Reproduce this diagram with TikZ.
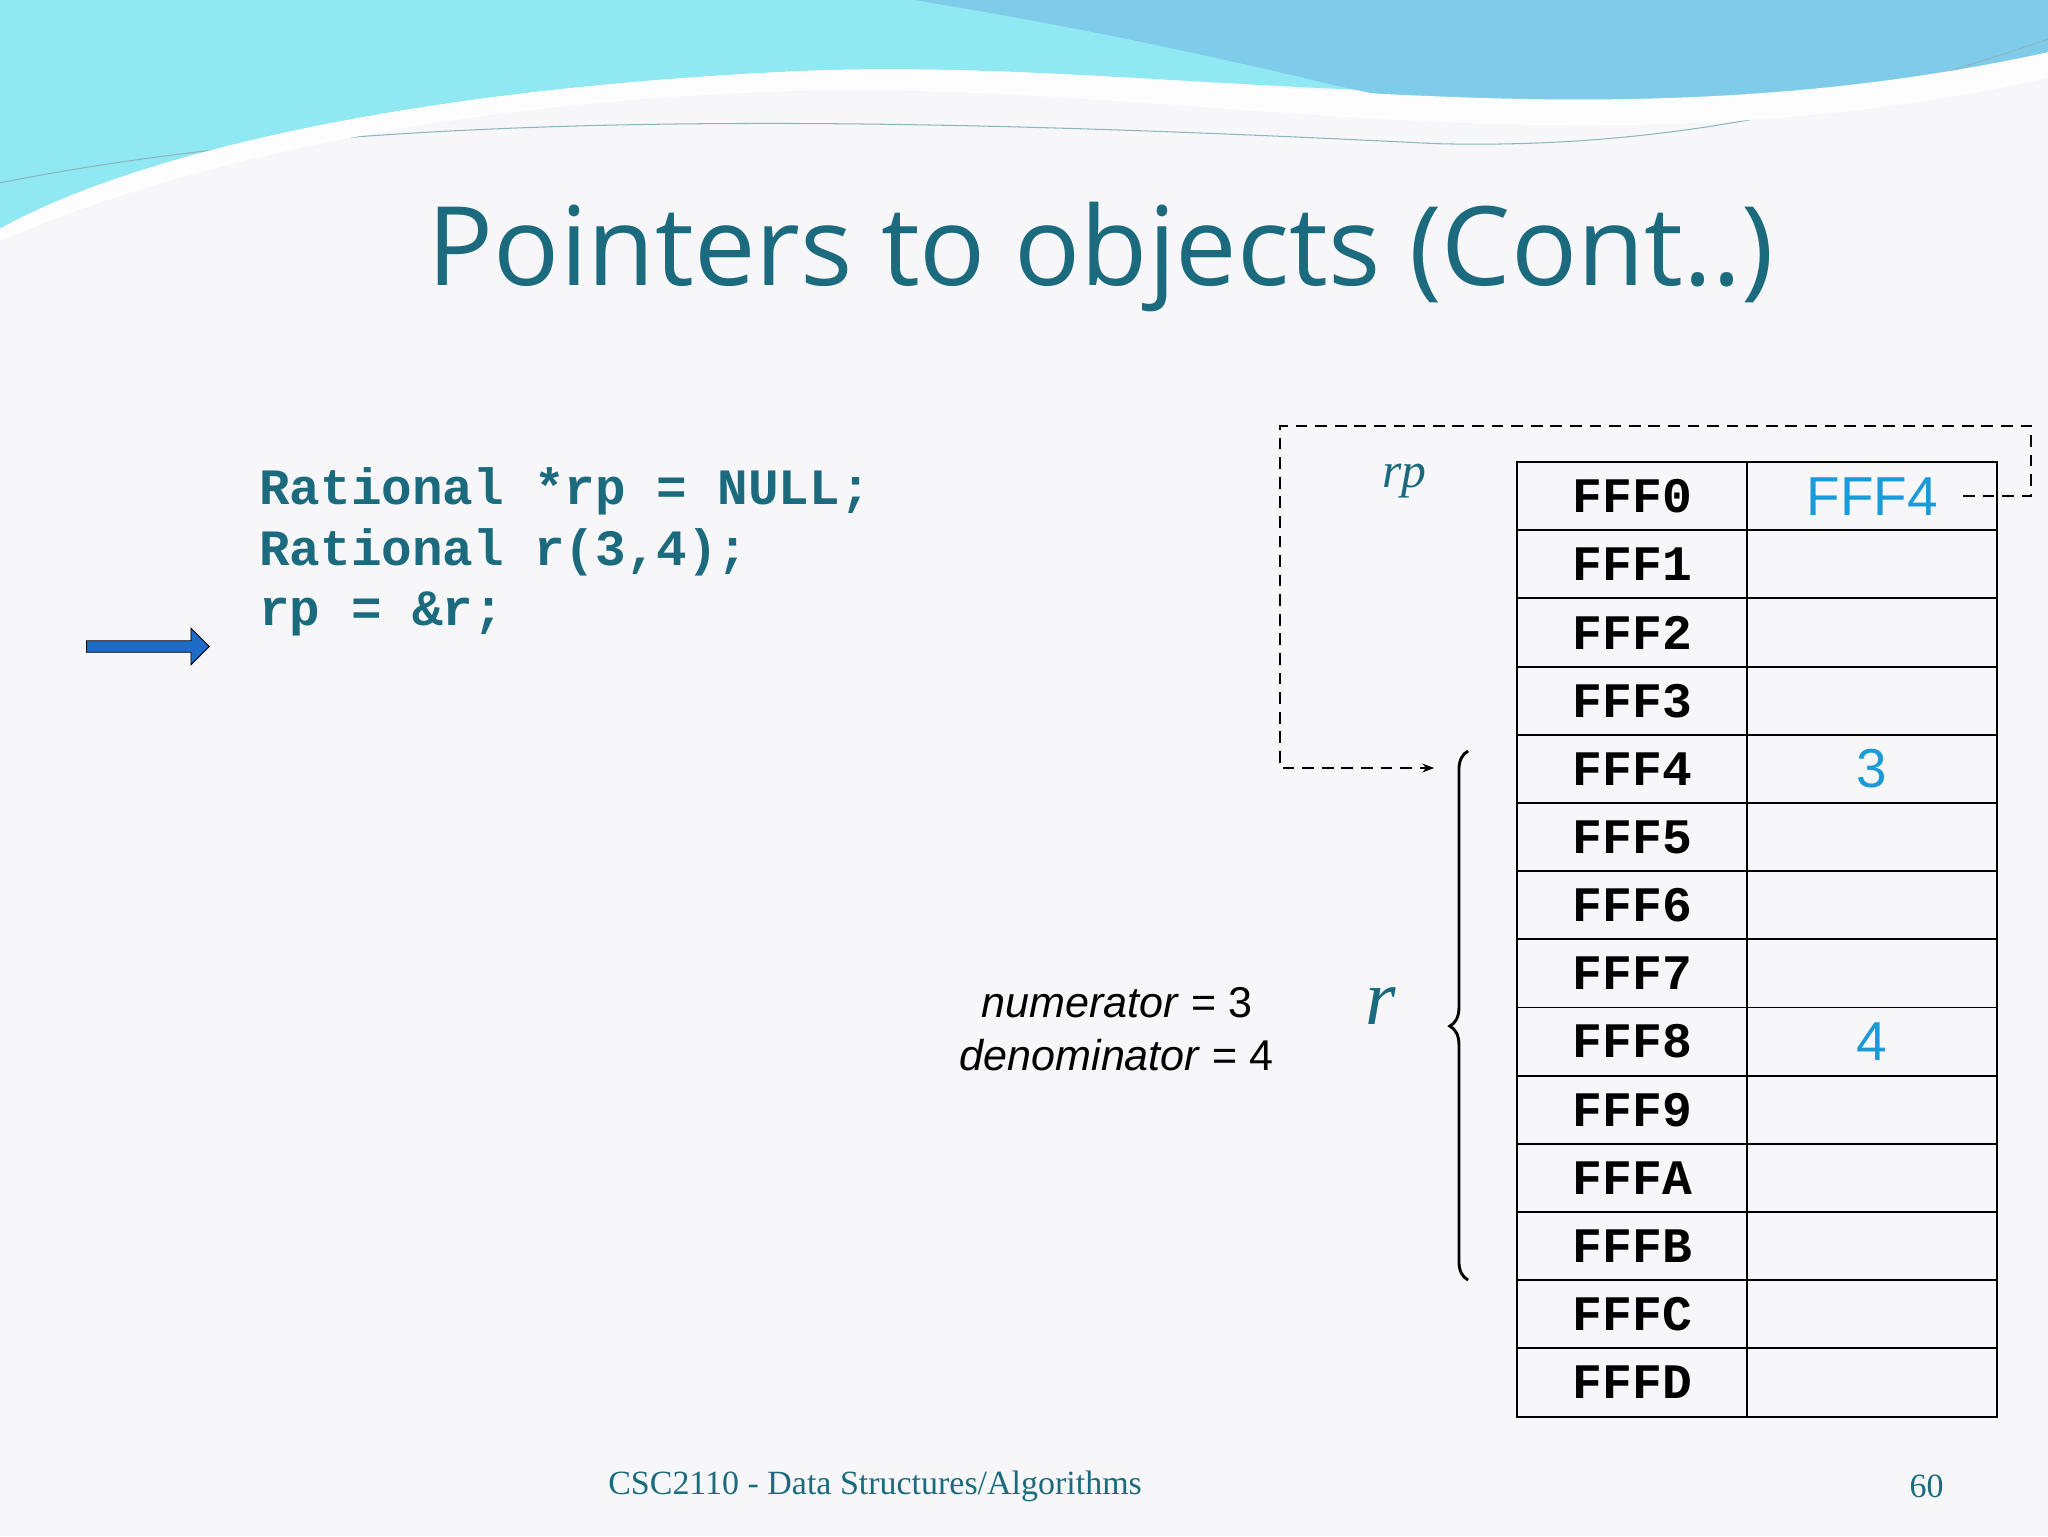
\documentclass[tikz,border=0pt]{standalone}
\usepackage{fontspec}
\setmainfont{Liberation Serif}
\setsansfont{Open Sans}
\newfontfamily\arial{Liberation Sans}
\newfontfamily\cour{Liberation Mono}
\usetikzlibrary{arrows.meta,decorations.pathreplacing,shapes.arrows}
\definecolor{bg}{HTML}{F7F7F9}
\definecolor{teal}{HTML}{1B6A7E}
\definecolor{val}{HTML}{1A9AD6}
\definecolor{cyanA}{HTML}{8FE8F2}
\definecolor{blueA}{HTML}{7FCBEA}
\definecolor{arr}{HTML}{1F6CC8}
\begin{document}
\begin{tikzpicture}[x=1pt,y=-1pt,
  cell/.style={draw,line width=1.5pt,minimum width=176,minimum height=52.2,inner sep=0,anchor=north west,font=\cour\bfseries\fontsize{38}{40}\selectfont},
  vcell/.style={draw,line width=1.5pt,minimum width=191,minimum height=52.2,inner sep=0,anchor=north west,text=val,font=\arial\fontsize{42}{44}\selectfont},
  code/.style={anchor=west,text=teal,font=\cour\bfseries\fontsize{39}{40}\selectfont},
  valtxt/.style={text=val,font=\arial\fontsize{42}{44}\selectfont}]
\fill[bg] (0,0) rectangle (1568,1176);
\useasboundingbox (0,0) rectangle (1568,1176);
% top waves
\fill[cyanA] (0,0) -- (1568,0) -- (1568,20) .. controls (1200,120) and (900,40) .. (600,55) .. controls (300,70) and (100,120) .. (0,175) -- cycle;
\fill[blueA] (700,0) -- (1568,0) -- (1568,40) .. controls (1400,100) and (1200,110) .. (1000,60) .. controls (850,25) and (760,10) .. (700,0) -- cycle;
\draw[teal!50,line width=0.8pt] (0,140) .. controls (300,80) and (700,90) .. (1100,110) .. controls (1300,115) and (1450,70) .. (1568,30);
\fill[white!70!bg] (0,175) .. controls (100,120) and (300,70) .. (600,55) .. controls (900,40) and (1200,120) .. (1568,40) -- (1568,60) .. controls (1200,140) and (900,60) .. (600,70) .. controls (300,80) and (100,140) .. (0,185) -- cycle;
% title
\node[text=teal,font=\sffamily\fontsize{84}{88}\selectfont] (title) at (843,197) {Pointers to objects (Cont..)};
% code
\node[code] (c1) at (195,376) {Rational *rp = NULL;};
\node[code] (c2) at (195,423) {Rational r(3,4);};
\node[code] (c3) at (195,470) {rp = \&r;};
\node[single arrow,draw=black,line width=0.6pt,fill=arr,minimum height=94,minimum width=28,single arrow head extend=5,single arrow head indent=0pt,inner sep=2,anchor=center] (ptr) at (111,495) {};
% table
\foreach \a [count=\i from 0] in {FFF0,FFF1,FFF2,FFF3,FFF4,FFF5,FFF6,FFF7,FFF8,FFF9,FFFA,FFFB,FFFC,FFFD}{
  \node[cell] (a\i) at (1161,353+52.2*\i) {\a};
  \node[vcell] (v\i) at (1337,353+52.2*\i) {};
}
\node[valtxt] at (v0) {FFF4\hspace{30pt}};
\node[valtxt] at (v4) {3};
\node[valtxt] at (v8) {4};
% dashed pointer
\coordinate (s) at (1503,380);
\coordinate (t) at (1098,588);
\draw[line width=1.3pt,dash pattern=on 9pt off 6pt,-{Stealth[length=9pt]}] (s) -- (1555,380) -- (1555,326) -- (980,326) -- (980,588) -- (t);
\node[font=\itshape\fontsize{38}{40}\selectfont,text=teal] (rp) at (1075,368) {rp};
\node[font=\itshape\fontsize{60}{60}\selectfont,text=teal] (r) at (1057,770) {r};
\draw[line width=2.2pt,decorate,decoration={brace,amplitude=14pt,aspect=0.48}] (1124,980) -- (1124,575);
\node[font=\arial\fontsize{33}{40}\selectfont,align=center] (fields) at (855,788) {\textit{numerator} = 3\\\textit{denominator} = 4};
% footer
\node[text=teal,font=\fontsize{26}{28}\selectfont] (foot) at (670,1138) {CSC2110 - Data Structures/Algorithms};
\node[text=teal,font=\fontsize{26}{28}\selectfont] (pg) at (1475,1138) {60};
\end{tikzpicture}
\end{document}
